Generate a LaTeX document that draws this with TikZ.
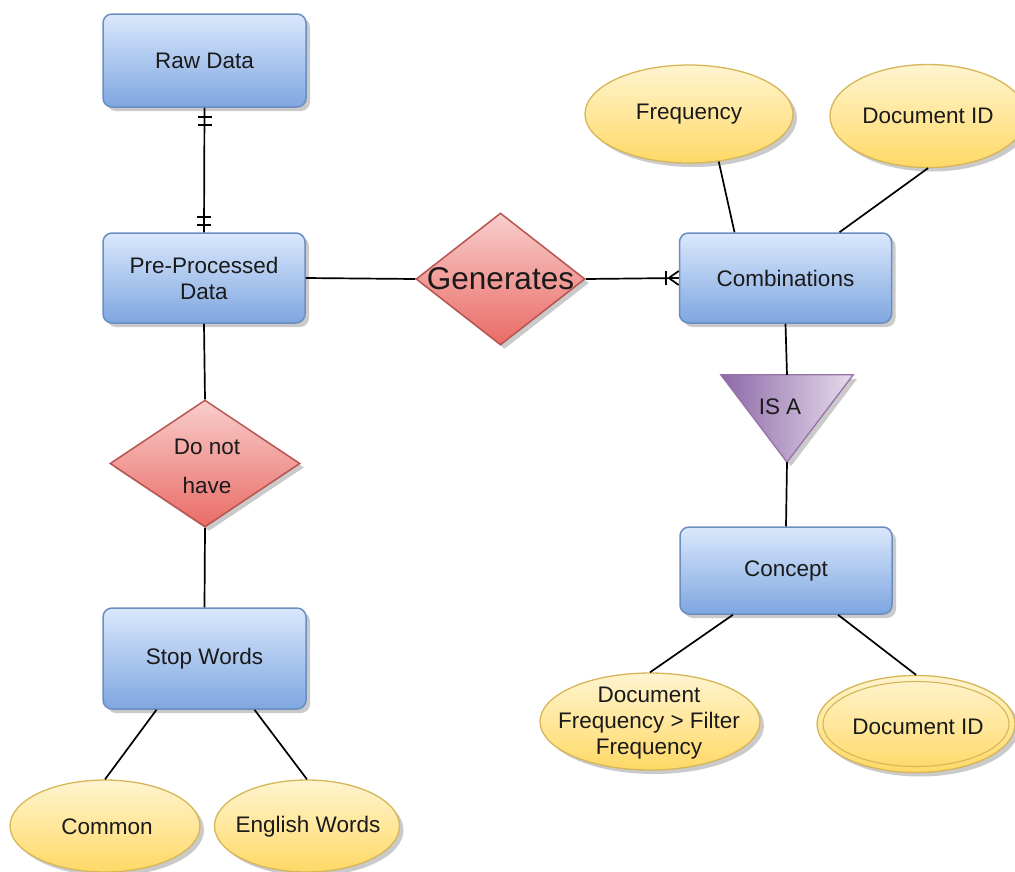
\documentclass[tikz,border=0pt]{standalone}
\usepackage{fontspec}
\setmainfont{Liberation Sans}
\usetikzlibrary{shapes.geometric,shadows,calc}
\definecolor{bluetop}{HTML}{DAE8FC}
\definecolor{bluebot}{HTML}{7EA6E0}
\definecolor{blueborder}{HTML}{6C8EBF}
\definecolor{yellowtop}{HTML}{FFF4D0}
\definecolor{yellowbot}{HTML}{FFD966}
\definecolor{yellowborder}{HTML}{D6B656}
\definecolor{redtop}{HTML}{F8CECC}
\definecolor{redbot}{HTML}{EA6B66}
\definecolor{redborder}{HTML}{B85450}
\definecolor{purpleleft}{HTML}{8D68A8}
\definecolor{purpleright}{HTML}{E6DCEC}
\definecolor{purpleborder}{HTML}{9673A6}
\definecolor{txt}{HTML}{1A1A1A}
\begin{document}
\begin{tikzpicture}[x=1pt,y=-1pt,
  every node/.style={font=\fontsize{22.5}{26}\selectfont, text=txt, align=center},
  shad/.style={drop shadow={shadow xshift=4pt, shadow yshift=-4pt, fill=black!35, opacity=0.6}},
  entity/.style={rectangle, rounded corners=9pt, draw=blueborder, line width=1.5pt,
    top color=bluetop, bottom color=bluebot, inner sep=0, shad},
  attr/.style={ellipse, draw=yellowborder, line width=1.3pt,
    top color=yellowtop, bottom color=yellowbot, inner sep=0, shad},
  rel/.style={diamond, draw=redborder, line width=1.5pt,
    top color=redtop, bottom color=redbot, inner sep=0, shad},
  link/.style={draw=black, line width=1.7pt},
]
\useasboundingbox (0,0) rectangle (1015,871);

% entities
\node[entity, minimum width=203, minimum height=93] (raw) at (204.5,60.5) {\raisebox{-2pt}{Raw Data}};
\node[entity, minimum width=202, minimum height=90] (pp) at (204,278) {Pre-Processed\\Data};
\node[entity, minimum width=212, minimum height=90] (comb) at (785.5,278) {Combinations};
\node[entity, minimum width=212, minimum height=87] (concept) at (786,570.5) {Concept};
\node[entity, minimum width=203, minimum height=101] (sw) at (204.5,658.5) {Stop Words};

% relationships
\node[rel, minimum width=169, minimum height=132] (gen) at (500.5,279) {};
\node[font=\fontsize{31.5}{34}\selectfont] (genT) at (gen) {Generates};
\node[rel, minimum width=190, minimum height=127] (dnh) at (205,463.5) {};
\node[font=\fontsize{22.5}{39}\selectfont] (dnhT) at (207,466) {Do not\\have};

% IS A triangle
\node[minimum width=132, minimum height=87, inner sep=0] (isa) at (787,418.5) {};
\path[drop shadow={shadow xshift=4pt, shadow yshift=-4pt, fill=black!35, opacity=0.6},
  draw=purpleborder, line width=1.3pt, left color=purpleleft, right color=purpleright]
  (isa.north west) -- (isa.north east) -- (isa.south) -- cycle;
\node (isaT) at (780,407) {IS A};

% attributes
\node[attr, minimum width=208, minimum height=98] (freq) at (689,114) {};
\node (freqT) at (freq) {Frequency};
\node[attr, minimum width=196, minimum height=103] (docid) at (928,116) {};
\node (docidT) at (docid) {Document ID};
\node[attr, minimum width=220, minimum height=97] (dfreq) at (650,721.5) {};
\node (dfreqT) at (649,723) {Document\\Frequency > Filter\\Frequency};
\node[attr, minimum width=198, minimum height=97] (docid2) at (916,724) {};
\node[ellipse, draw=yellowborder, line width=1.1pt, minimum width=186, minimum height=85, inner sep=0] (docid2in) at (docid2) {};
\node (docid2T) at (918,727) {Document ID};
\node[attr, minimum width=190, minimum height=92] (common) at (105,826) {};
\node (commonT) at (107,827) {Common};
\node[attr, minimum width=185, minimum height=92] (eng) at (307,826) {};
\node (engT) at (308,827) {English Words};

% connectors
\draw[link] (raw.south) -- (pp.north);
\foreach \d in {9,17} {
  \draw[link] ($(raw.south)+(-7,\d)$) -- ++(14,0);
}
\foreach \d in {7,15} {
  \draw[link] ($(pp.north)+(-7,-\d)$) -- ++(14,0);
}
\draw[link] (pp.east) -- (gen.west);
\draw[link] (gen.east) -- (comb.west);
\draw[link] ($(comb.west)+(-13,-7)$) -- ++(0,14);
\draw[link] ($(comb.west)+(-10,0)$) -- ($(comb.west)+(0,-7)$);
\draw[link] ($(comb.west)+(-10,0)$) -- ($(comb.west)+(0,7)$);
\draw[link] (pp.south) -- (dnh.north);
\draw[link] (dnh.south) -- (sw.north);
\draw[link] (comb.south) -- (isa.north);
\draw[link] (isa.south) -- (concept.north);
\draw[link] (freq.-58) -- ($(comb.north)+(-51,0)$);
\draw[link] (docid.south) -- ($(comb.north)+(54,0)$);
\draw[link] ($(concept.south)+(-53,0)$) -- (dfreq.north);
\draw[link] ($(concept.south)+(52,0)$) -- (docid2.north);
\draw[link] ($(sw.south)+(-48,0)$) -- (common.north);
\draw[link] ($(sw.south)+(50,0)$) -- (eng.north);
\end{tikzpicture}
\end{document}
